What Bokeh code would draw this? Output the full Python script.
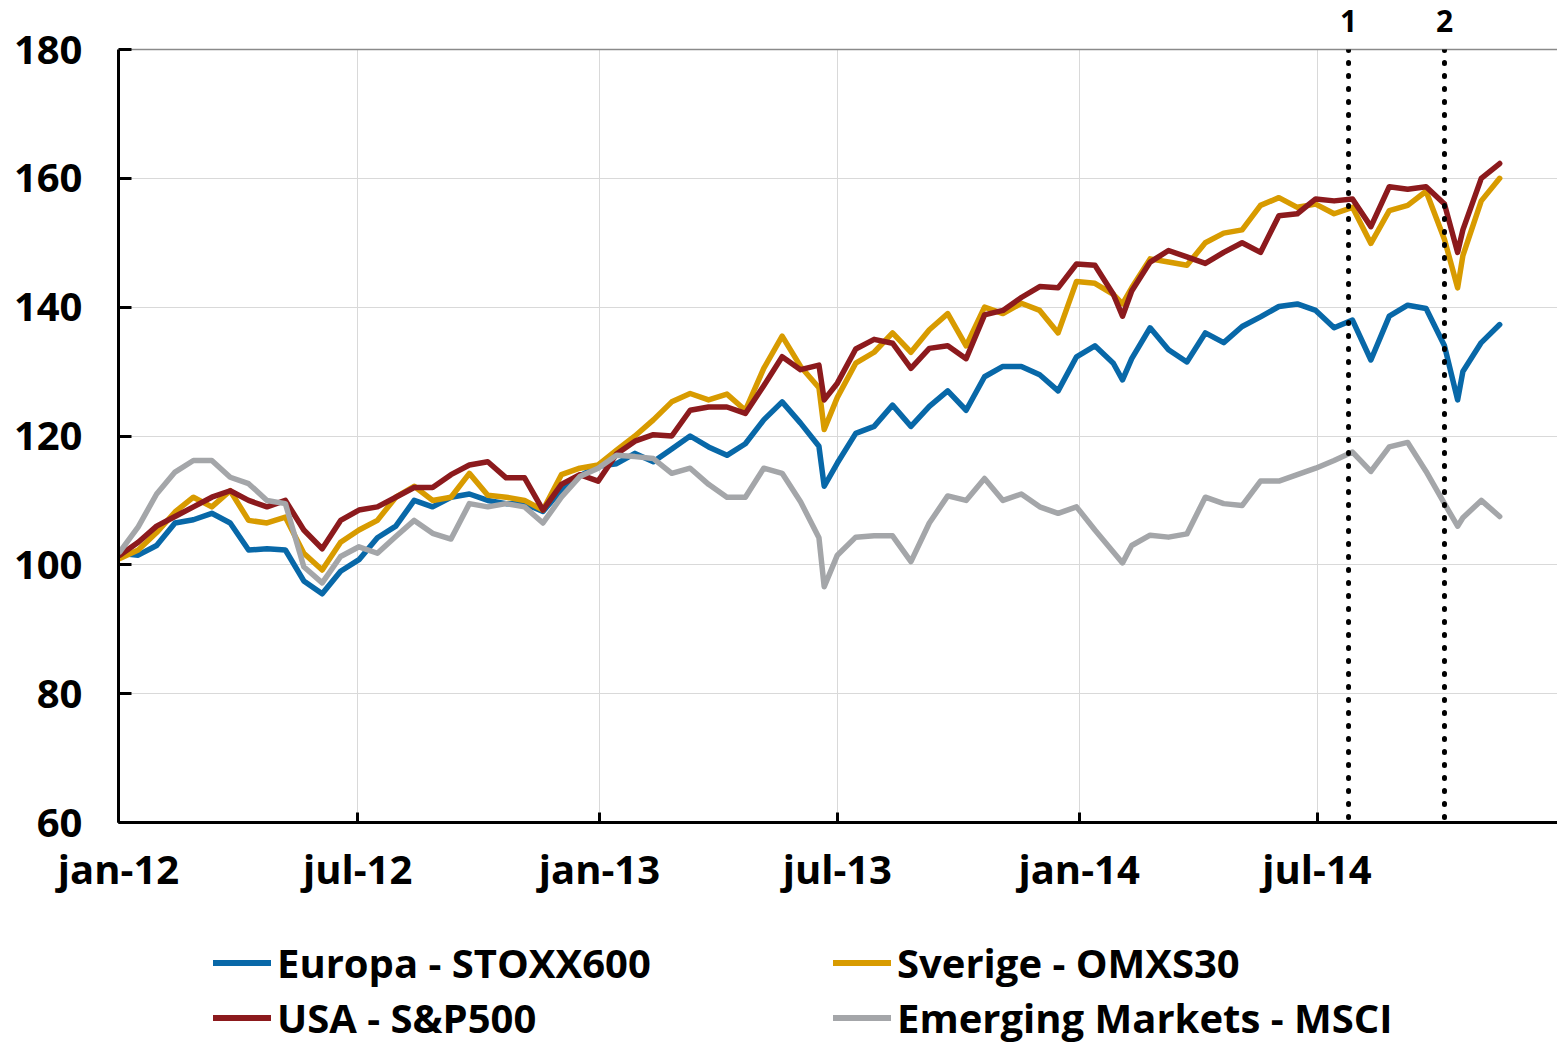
import pandas as pd
from bokeh.plotting import figure
from bokeh.layouts import column
from bokeh.models import (Range1d, FixedTicker, Legend, LegendItem, Span, LinearAxis)
from bokeh.embed import file_html
from bokeh.resources import INLINE

# ---------------- data ----------------
DATES = [
    "2012-01-02", "2012-01-16", "2012-01-30", "2012-02-13", "2012-02-27", "2012-03-12", "2012-03-26", "2012-04-09", "2012-04-23", "2012-05-07",
    "2012-05-21", "2012-06-04", "2012-06-18", "2012-07-02", "2012-07-16", "2012-07-30", "2012-08-13", "2012-08-27", "2012-09-10", "2012-09-24",
    "2012-10-08", "2012-10-22", "2012-11-05", "2012-11-19", "2012-12-03", "2012-12-17", "2012-12-31", "2013-01-14", "2013-01-28", "2013-02-11",
    "2013-02-25", "2013-03-11", "2013-03-25", "2013-04-08", "2013-04-22", "2013-05-06", "2013-05-20", "2013-06-03", "2013-06-17", "2013-06-21",
    "2013-07-01", "2013-07-15", "2013-07-29", "2013-08-12", "2013-08-26", "2013-09-09", "2013-09-23", "2013-10-07", "2013-10-21", "2013-11-04",
    "2013-11-18", "2013-12-02", "2013-12-16", "2013-12-30", "2014-01-13", "2014-01-27", "2014-02-03", "2014-02-10", "2014-02-24", "2014-03-10",
    "2014-03-24", "2014-04-07", "2014-04-21", "2014-05-05", "2014-05-19", "2014-06-02", "2014-06-16", "2014-06-30", "2014-07-14", "2014-07-28",
    "2014-08-11", "2014-08-25", "2014-09-08", "2014-09-22", "2014-10-06", "2014-10-16", "2014-10-20", "2014-11-03", "2014-11-17",
]

EUROPA = [
    101.8, 101.5, 103.0, 106.5, 107.0, 108.0, 106.5, 102.3, 102.5, 102.3,
    97.5, 95.5, 99.0, 100.8, 104.2, 106.0, 110.0, 109.0, 110.5, 111.0,
    110.0, 109.5, 109.5, 108.3, 111.6, 113.8, 115.3, 115.7, 117.3, 116.0,
    118.0, 120.0, 118.3, 117.0, 118.8, 122.5, 125.3, 122.0, 118.4, 112.2,
    115.8, 120.4, 121.5, 124.8, 121.5, 124.6, 127.0, 124.0, 129.2, 130.8,
    130.8, 129.5, 127.0, 132.3, 134.0, 131.3, 128.7, 132.0, 136.8, 133.4,
    131.5, 136.0, 134.5, 137.0, 138.5, 140.1, 140.5, 139.5, 136.8, 138.0,
    131.8, 138.6, 140.3, 139.8, 134.0, 125.6, 130.0, 134.5, 137.3,
]

SVERIGE = [
    101.0, 102.3, 105.0, 108.2, 110.5, 109.0, 111.5, 106.9, 106.5, 107.4,
    101.8, 99.2, 103.5, 105.4, 106.9, 110.5, 112.2, 110.0, 110.5, 114.2,
    110.8, 110.5, 110.0, 108.5, 114.0, 115.0, 115.5, 117.8, 120.0, 122.5,
    125.3, 126.6, 125.6, 126.5, 124.0, 130.5, 135.5, 130.8, 127.5, 121.0,
    126.0, 131.3, 133.0, 136.0, 133.0, 136.5, 139.0, 134.0, 140.0, 139.0,
    140.6, 139.5, 136.0, 144.0, 143.7, 142.0, 140.5, 143.0, 147.5, 147.0,
    146.5, 150.0, 151.5, 152.0, 155.8, 157.0, 155.5, 156.0, 154.5, 155.5,
    149.9, 155.0, 155.8, 158.0, 150.5, 143.0, 148.0, 156.5, 160.0,
]

USA = [
    101.5, 103.5, 106.0, 107.5, 109.0, 110.5, 111.5, 110.0, 109.0, 110.0,
    105.4, 102.5, 106.9, 108.5, 109.0, 110.5, 112.0, 112.0, 114.0, 115.5,
    116.0, 113.5, 113.5, 108.5, 112.5, 114.0, 113.0, 117.2, 119.2, 120.2,
    120.0, 124.0, 124.5, 124.5, 123.5, 127.8, 132.3, 130.3, 131.0, 125.6,
    128.2, 133.5, 135.0, 134.4, 130.5, 133.6, 134.0, 132.0, 138.8, 139.5,
    141.5, 143.2, 143.0, 146.7, 146.5, 142.0, 138.6, 142.5, 147.0, 148.8,
    147.8, 146.8, 148.5, 150.0, 148.5, 154.2, 154.5, 156.8, 156.5, 156.8,
    152.5, 158.7, 158.3, 158.7, 156.0, 148.5, 152.0, 160.0, 162.3,
]

EMERGING = [
    102.0, 105.9, 111.0, 114.4, 116.2, 116.2, 113.6, 112.6, 110.0, 109.5,
    99.7, 97.2, 101.3, 102.8, 101.8, 104.4, 106.9, 104.9, 104.0, 109.5,
    109.0, 109.5, 109.0, 106.5, 110.5, 113.7, 115.0, 117.0, 116.8, 116.5,
    114.2, 115.0, 112.5, 110.5, 110.5, 115.0, 114.2, 109.8, 104.2, 96.6,
    101.5, 104.3, 104.5, 104.5, 100.5, 106.5, 110.7, 110.0, 113.4, 110.0,
    111.0, 109.0, 108.0, 109.0, 105.4, 102.0, 100.3, 103.0, 104.6, 104.3,
    104.8, 110.5, 109.5, 109.2, 113.0, 113.0, 114.0, 115.0, 116.2, 117.5,
    114.5, 118.3, 119.0, 114.5, 109.5, 106.0, 107.3, 110.0, 107.5,
]

SERIES_NAMES = ["Europa - STOXX600", "Sverige - OMXS30", "USA - S&P500", "Emerging Markets - MSCI"]
SERIES_COLORS = ["#0868a8", "#d89b00", "#8c1a1d", "#a4a6a9"]

X_TICK_DATES = ["2012-01-01", "2012-07-01", "2013-01-01", "2013-07-01", "2014-01-01", "2014-07-01"]
X_TICK_LABELS = ["jan-12", "jul-12", "jan-13", "jul-13", "jan-14", "jul-14"]
Y_TICKS = [60, 80, 100, 120, 140, 160, 180]

EVENT_DATES = ["2014-07-25", "2014-10-06"]
EVENT_LABELS = ["1", "2"]

FONT = "Open Sans"
TOTAL_W, CHART_H, LEGEND_H = 1557, 910, 137


def ms(d):
    return int(pd.Timestamp(d).value // 10**6)


x = pd.to_datetime(DATES)
x_start = pd.Timestamp("2012-01-01")
x_end = x_start + pd.Timedelta(days=1095)

p = figure(width=TOTAL_W, height=CHART_H, x_axis_type="datetime",
           x_range=Range1d(x_start, x_end), y_range=Range1d(60, 180),
           output_backend="svg", toolbar_location=None,
           min_border_left=118, min_border_right=0,
           min_border_top=49, min_border_bottom=CHART_H - 822)
p.outline_line_color = None
p.background_fill_color = "white"
p.border_fill_color = "white"

# grid
p.xgrid.grid_line_color = "#d9d9d9"
p.ygrid.grid_line_color = "#d9d9d9"
p.xgrid.grid_line_width = 1
p.ygrid.grid_line_width = 1

# x axis
xa = p.xaxis[0]
xa.ticker = FixedTicker(ticks=[ms(d) for d in X_TICK_DATES])
xa.major_label_overrides = {ms(d): lab for d, lab in zip(X_TICK_DATES, X_TICK_LABELS)}
xa.major_tick_in = 10
xa.major_tick_out = 0
xa.major_label_standoff = 18

# y axis
ya = p.yaxis[0]
ya.ticker = FixedTicker(ticks=Y_TICKS)
ya.major_tick_in = 13
ya.major_tick_out = 0
ya.major_label_standoff = 36

for ax in (xa, ya):
    ax.axis_line_color = "black"
    ax.axis_line_width = 3
    ax.major_tick_line_color = "black"
    ax.major_tick_line_width = 3
    ax.minor_tick_line_color = None
    ax.major_label_text_font = FONT
    ax.major_label_text_font_size = "40px"
    ax.major_label_text_font_style = "bold"
    ax.major_label_text_color = "black"

# top border of the plot area, carrying the event numbers
top = LinearAxis(ticker=FixedTicker(ticks=[ms(d) for d in EVENT_DATES]),
                 major_label_overrides={ms(d): lab for d, lab in zip(EVENT_DATES, EVENT_LABELS)},
                 axis_line_color="#8a8a8a", axis_line_width=1.5,
                 major_tick_line_color=None, minor_tick_line_color=None,
                 major_tick_in=0, major_tick_out=0, major_label_standoff=18,
                 major_label_text_font=FONT, major_label_text_font_size="30px",
                 major_label_text_font_style="bold", major_label_text_color="black")
p.add_layout(top, "above")

# series
renderers = []
for vals, color in zip([EUROPA, SVERIGE, USA, EMERGING], SERIES_COLORS):
    r = p.line(x, vals, line_color=color, line_width=5.5, line_join="round", line_cap="round")
    renderers.append(r)

# event lines
for d in EVENT_DATES:
    p.add_layout(Span(location=ms(d), dimension="height", line_color="black",
                      line_width=5, line_dash="1 12", line_cap="round"))

# legend in its own strip under the chart (swatch lines sit outside the strip's view)
pl = figure(width=TOTAL_W, height=LEGEND_H, x_range=Range1d(0, 1), y_range=Range1d(0, 1),
            output_backend="svg", toolbar_location=None,
            min_border_left=0, min_border_right=0, min_border_top=0, min_border_bottom=0)
pl.axis.visible = False
pl.grid.visible = False
pl.outline_line_color = None
pl.border_fill_color = "white"
pl.background_fill_color = "white"
legend_renderers = [pl.line([5, 6], [5, 6], line_color=c, line_width=6, line_cap="round")
                    for c in SERIES_COLORS]

legend = Legend(items=[LegendItem(label=n, renderers=[r]) for n, r in zip(SERIES_NAMES, legend_renderers)],
                orientation="horizontal", ncols=2, location=(95, 2),
                label_text_font=FONT, label_text_font_size="40px", label_text_font_style="bold",
                label_text_color="black",
                glyph_width=58, glyph_height=55, label_height=55, label_width=556,
                label_standoff=6, spacing=0, padding=0, margin=0,
                background_fill_alpha=0, border_line_color=None)
pl.add_layout(legend, "center")

open("out.html", "w").write(file_html(column(p, pl, spacing=0), INLINE))
